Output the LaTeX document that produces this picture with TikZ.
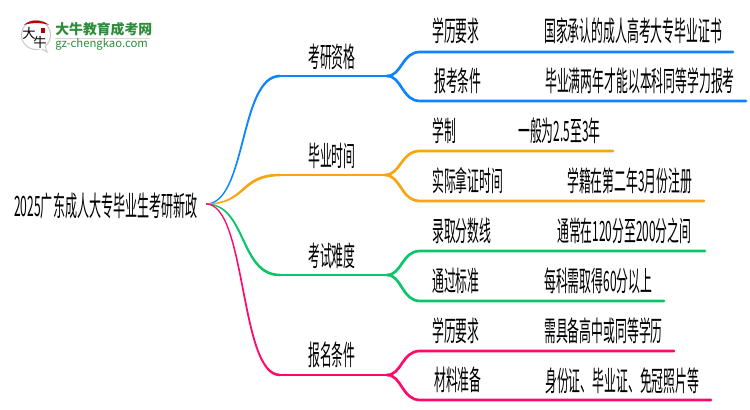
\documentclass[tikz,border=0pt]{standalone}
\usepackage{fontspec}
\usetikzlibrary{calc}
\setmainfont{Noto Sans CJK SC}
\newfontfamily\cjk[FakeStretch=0.423]{Noto Sans CJK SC}
\newfontfamily\cjkroot[FakeStretch=0.43]{Noto Sans CJK SC}
\newfontfamily\logofont{Noto Sans CJK SC}
\definecolor{cblue}{HTML}{0F84FF}
\definecolor{corange}{HTML}{F8A50F}
\definecolor{cgreen}{HTML}{0CC46A}
\definecolor{cpink}{HTML}{FF0A6C}
\definecolor{logog}{HTML}{2E8B3A}
\tikzset{
 x=0.75pt,y=-0.75pt,
 lbl/.style={inner sep=0,anchor=base west,text=black,font=\cjk\fontsize{21}{21}\selectfont},
 wire/.style={line width=2pt,line cap=round},
}
\begin{document}
\begin{tikzpicture}
\useasboundingbox (0,0) rectangle (750,410);
% logo
\fill[white,draw=black!20,line width=0.8pt] (36,35) circle (14.5);
\fill[white,draw=black!20,line width=0.8pt] (40,48) -- (47,52) -- (45,45) -- cycle;
\fill[white] (38,45) rectangle (45,49);
\fill[red!75!black] (24,25) .. controls (30,19) and (42,19) .. (49,25) .. controls (42,22.5) and (31,22.5) .. (24,25) -- cycle;
\node[inner sep=0,font=\logofont\fontsize{10}{10}\selectfont] (logoa) at (29,33) {大};
\node[inner sep=0,font=\logofont\fontsize{10}{10}\selectfont] (logob) at (40,42) {牛};
\fill[red!70!black] (41,28) rectangle (45,33);
\node[inner sep=0,anchor=base west,text=logog,font=\logofont\bfseries\fontsize{10.4}{10.4}\selectfont] (logot) at (55,35) {大牛教育成考网};
\draw[black!15,line width=.5pt] (55,38.5) -- (150,38.5);
\node[inner sep=0,anchor=base west,text=logog,font=\logofont\fontsize{8.5}{8.5}\selectfont] (logou) at (55,47.5) {gz-chengkao.com};
% texts (y = visual centre + 10.6)
\node[lbl,font=\cjkroot\fontsize{21}{21}\selectfont] (root) at (14,216.6) {2025广东成人大专毕业生考研新政};
\node[lbl] (b1) at (308,67.6) {考研资格};
\node[lbl] (b2) at (308,166.6) {毕业时间};
\node[lbl] (b3) at (308,266.6) {考试难度};
\node[lbl] (b4) at (308,365.6) {报名条件};
\node[lbl] (a1) at (432,41.6) {学历要求};
\node[lbl] (a2) at (434,91.6) {报考条件};
\node[lbl] (a3) at (432,141.6) {学制};
\node[lbl] (a4) at (432,191.6) {实际拿证时间};
\node[lbl] (a5) at (432,241.6) {录取分数线};
\node[lbl] (a6) at (432,291.6) {通过标准};
\node[lbl] (a7) at (432,341.1) {学历要求};
\node[lbl] (a8) at (434,390.6) {材料准备};
\node[lbl] (c1) at (544,41.6) {国家承认的成人高考大专毕业证书};
\node[lbl] (c2) at (545,91.6) {毕业满两年才能以本科同等学力报考};
\node[lbl] (c3) at (518,141.6) {一般为2.5至3年};
\node[lbl] (c4) at (567,191.6) {学籍在第二年3月份注册};
\node[lbl] (c5) at (557,241.6) {通常在120分至200分之间};
\node[lbl] (c6) at (544,291.6) {每科需取得60分以上};
\node[lbl] (c7) at (544,341.6) {需具备高中或同等学历};
\node[lbl] (c8) at (545,391.6) {身份证、毕业证、免冠照片等};
% connector coordinates
\coordinate (o) at (206,204);
\foreach \n/\x/\y in {p1/280/76,q1/387/76,p2/280/175,q2/385/175,p3/280/275,q3/387/275,p4/280/375,q4/387/375,
 u1/420/52,e1/733/52,u2/420/101,e2/746/101,u3/420/151,e3/613/151,u4/420/201,e4/704/201,
 u5/420/251,e5/705/251,u6/420/301,e6/664/301,u7/420/351,e7/674/351,u8/420/400,e8/711/400}
 {\coordinate (\n) at (\x,\y);}
% branches: trunk tapers from the root to the branch line
\foreach \c/\p/\q/\u/\e/\v/\f/\s in {cblue/p1/q1/u1/e1/u2/e2/1,corange/p2/q2/u3/e3/u4/e4/1,cgreen/p3/q3/u5/e5/u6/e6/-1,cpink/p4/q4/u7/e7/u8/e8/-1}{
 \coordinate (k1) at ($(o)!0.55!(\p|-o)$);
 \coordinate (k2) at ($(o|-\p)!0.45!(\p)$);
 \fill[\c] ($(o)+(0,-0.6)$) .. controls ($(k1)+(-0.7*\s,-0.8)$) and ($(k2)+(-1.1*\s,-1.3)$) .. ($(\p)+(0,-1.3)$)
   -- ($(\p)+(0,1.3)$) .. controls ($(k2)+(1.1*\s,1.3)$) and ($(k1)+(0.7*\s,0.8)$) .. ($(o)+(0,0.6)$) -- cycle;
 \draw[wire,\c] (\p) -- (\q);
 \draw[wire,\c] (\q) .. controls ($(\q)!0.45!(\u|-\q)$) and ($(\q|-\u)!0.45!(\u)$) .. (\u) -- (\e);
 \draw[wire,\c] (\q) .. controls ($(\q)!0.45!(\v|-\q)$) and ($(\q|-\v)!0.45!(\v)$) .. (\v) -- (\f);
}
\end{tikzpicture}
\end{document}
